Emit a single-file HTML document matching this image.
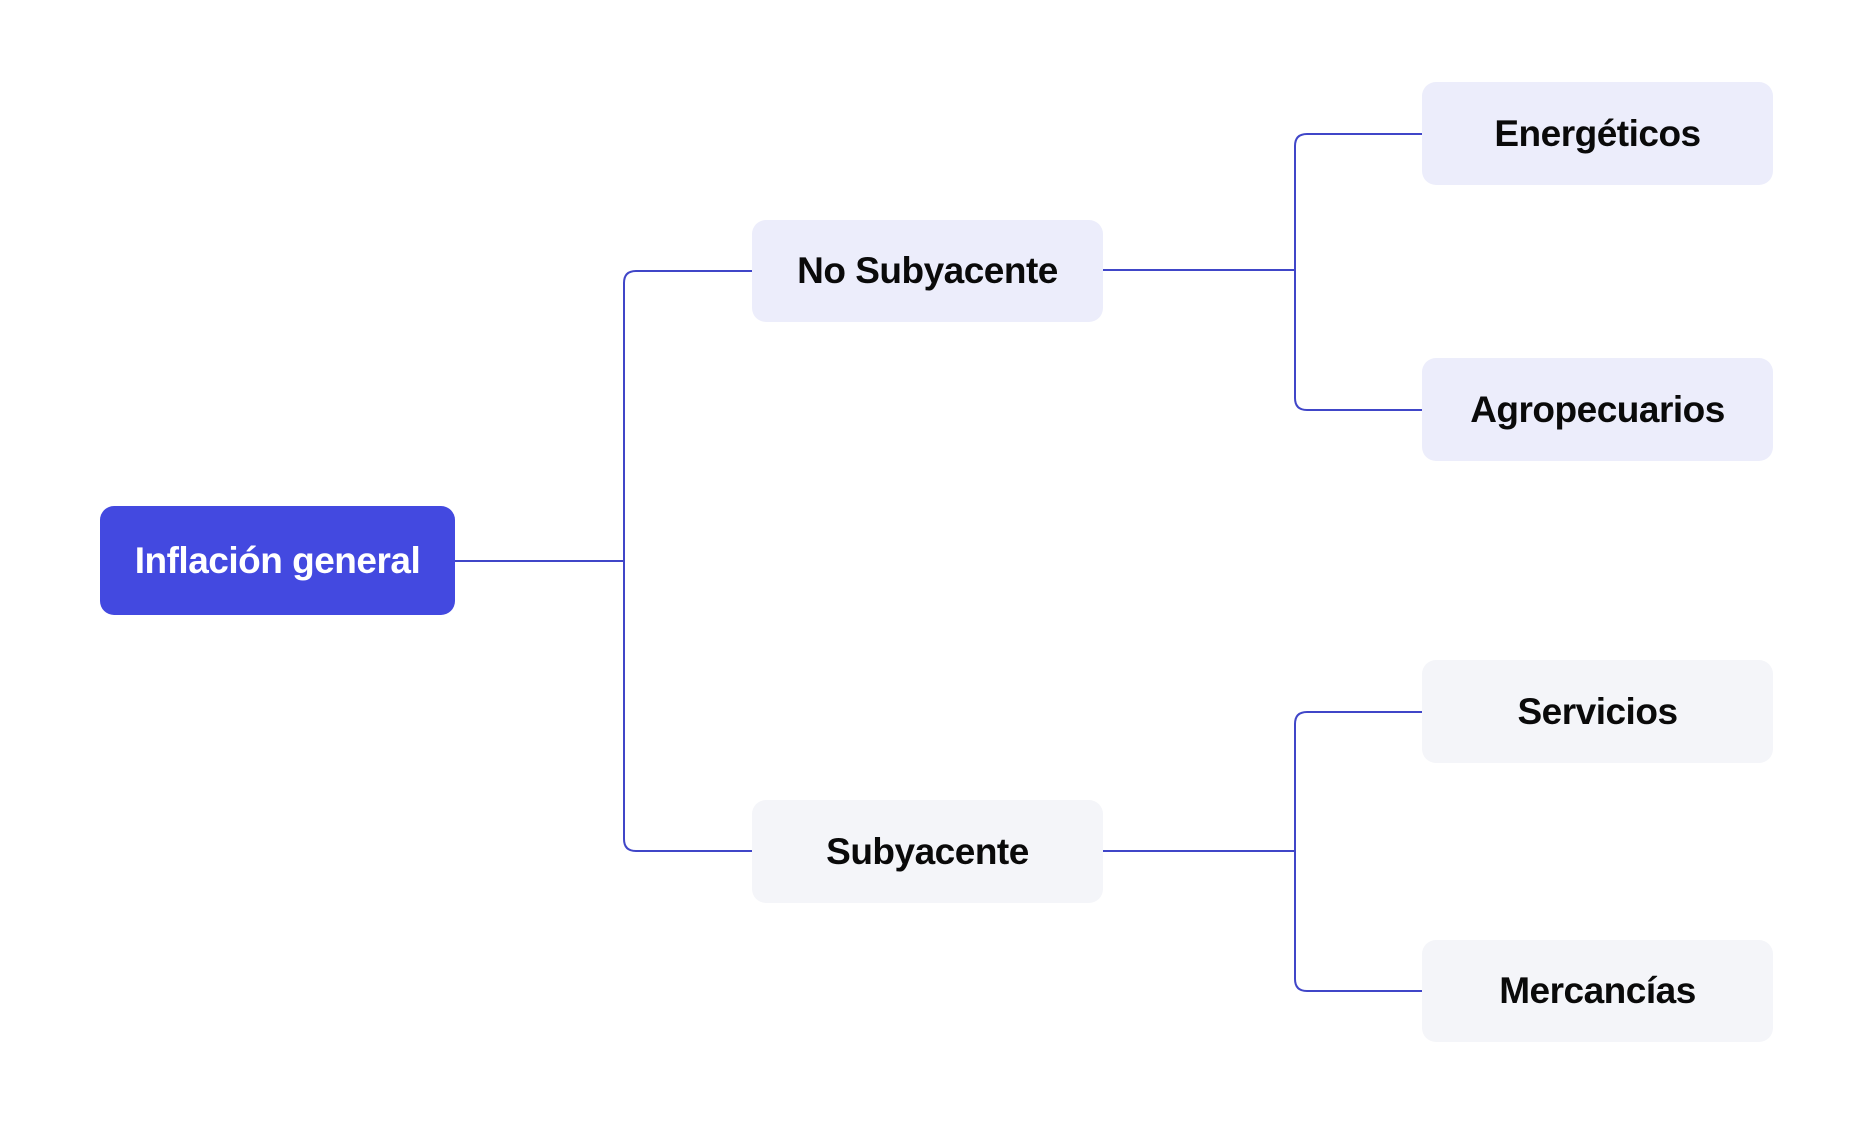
<!DOCTYPE html>
<html><head><meta charset="utf-8"><style>
body{margin:0;width:1872px;height:1124px;background:#fff;position:relative;overflow:hidden;font-family:"Liberation Sans",sans-serif}
.b{position:absolute;display:flex;align-items:center;justify-content:center;border-radius:14px;font-size:37px;font-weight:bold;color:#0a0a0a;letter-spacing:-0.5px}
.p{background:#ecedfb}.g{background:#f4f5f9}
svg{position:absolute;left:0;top:0}
</style></head><body>
<svg width="1872" height="1124" fill="none" stroke="#4046c8" stroke-width="2">
<path d="M455 561H624"/>
<path d="M752 271H636Q624 271 624 283V839Q624 851 636 851H752"/>
<path d="M1103 270H1295"/>
<path d="M1422 134H1307Q1295 134 1295 146V398Q1295 410 1307 410H1422"/>
<path d="M1103 851H1295"/>
<path d="M1422 712H1307Q1295 712 1295 724V979Q1295 991 1307 991H1422"/>
</svg>
<div class="b" style="left:100px;top:506px;width:355px;height:109px;background:#4349e0;color:#fff">Inflación general</div>
<div class="b p" style="left:752px;top:220px;width:351px;height:102px">No Subyacente</div>
<div class="b g" style="left:752px;top:800px;width:351px;height:103px">Subyacente</div>
<div class="b p" style="left:1422px;top:82px;width:351px;height:103px">Energéticos</div>
<div class="b p" style="left:1422px;top:358px;width:351px;height:103px">Agropecuarios</div>
<div class="b g" style="left:1422px;top:660px;width:351px;height:103px">Servicios</div>
<div class="b g" style="left:1422px;top:940px;width:351px;height:102px">Mercancías</div>
</body></html>
